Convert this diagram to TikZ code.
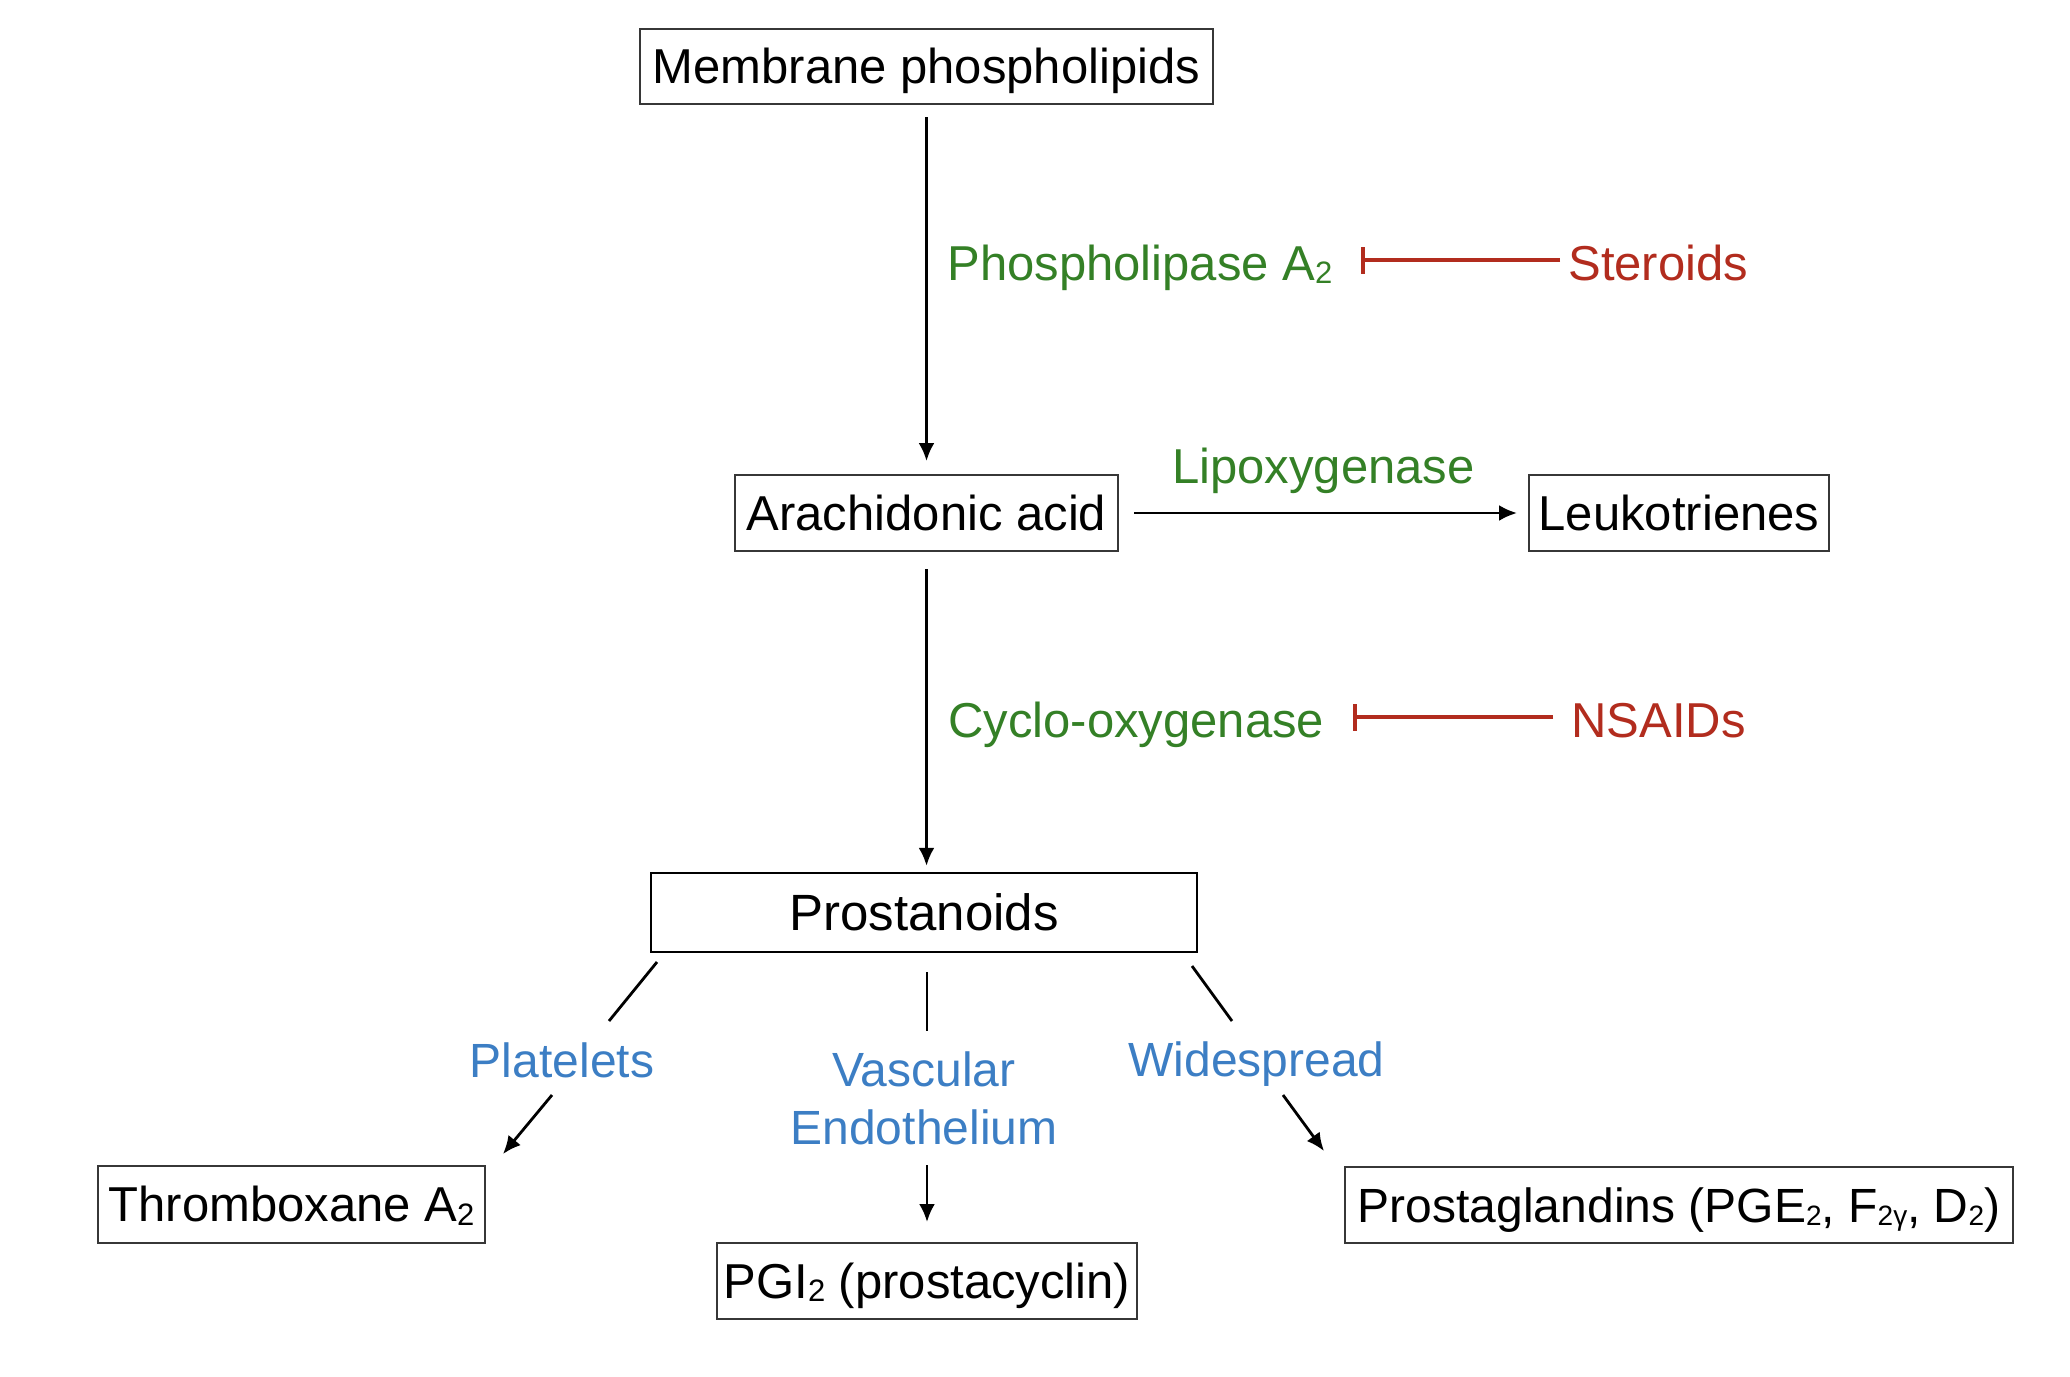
\documentclass[tikz,border=0pt]{standalone}
\usepackage{fontspec}
\setmainfont{Liberation Sans}
\usetikzlibrary{arrows.meta}
\definecolor{tgreen}{RGB}{52,128,38}
\definecolor{tred}{RGB}{178,44,30}
\definecolor{tblue}{RGB}{60,126,196}
\definecolor{boxline}{RGB}{55,55,55}
\newcommand\subtxt[1]{\raisebox{-1.8pt}{\fontsize{15.5pt}{15.5pt}\selectfont #1}}
\newcommand\subsm[1]{\raisebox{-1.8pt}{\fontsize{14pt}{14pt}\selectfont #1}}
\tikzset{
  boxnode/.style={draw=boxline, line width=1pt, inner sep=0pt, text height=17.35pt, text depth=0pt,
    font=\fontsize{24.5pt}{29pt}\selectfont},
  lbl/.style={inner sep=0pt, text height=20pt, text depth=0pt, font=\fontsize{24.5pt}{29pt}\selectfont},
  bluelbl/.style={inner sep=0pt, text=tblue, font=\fontsize{24pt}{29pt}\selectfont, align=center},
  arr/.style={line width=1.4pt, -{Latex[length=9pt,width=8pt]}},
  ln/.style={line width=1.4pt},
  inh/.style={draw=tred, line width=2.2pt, -{Bar[width=13.5pt]}},
}
\begin{document}
\begin{tikzpicture}[x=0.5pt,y=-0.5pt]
\useasboundingbox[fill=white] (0,0) rectangle (2070,1376);
% boxes
\node[boxnode, minimum width=286.5pt, minimum height=37.5pt] (mem) at (926.5,66.5) {Membrane phospholipids};
\node[boxnode, minimum width=191.5pt, minimum height=38pt] (ara) at (926.5,513) {Arachidonic acid};
\node[boxnode, minimum width=150pt, minimum height=38pt] (leuk) at (1679,513) {Leukotrienes};
\node[boxnode, draw=black, line width=1.2pt, minimum width=273pt, minimum height=39.5pt, text height=18pt,
  font=\fontsize{25.5pt}{29pt}\selectfont] (prost) at (924,912.5) {Prostanoids};
\node[boxnode, minimum width=193.5pt, minimum height=38.5pt] (thromb) at (291.5,1204.5) {Thromboxane A\subtxt{2}};
\node[boxnode, minimum width=210pt, minimum height=38pt] (pgi) at (927,1281) {PGI\subtxt{2} (prostacyclin)};
\node[boxnode, minimum width=334pt, minimum height=38pt, font=\fontsize{24pt}{29pt}\selectfont] (pgs) at (1679,1205) {Prostaglandins (PGE\subsm{2}, F\subsm{2γ}, D\subsm{2})};
% labels
\node[lbl, text=tgreen, anchor=base west] (pla) at (947,280) {Phospholipase A\subtxt{2}};
\node[lbl, text=tred, anchor=base west] (ster) at (1568,280) {Steroids};
\node[lbl, text=tgreen, anchor=base] (lipo) at (1323.5,483) {Lipoxygenase};
\node[lbl, text=tgreen, anchor=base west] (cox) at (948,737) {Cyclo-oxygenase};
\node[lbl, text=tred, anchor=base west] (nsaid) at (1571,737) {NSAIDs};
\node[bluelbl, anchor=base] (plat) at (562,1077) {Platelets};
\node[bluelbl] (vasc) at (924,1098.5) {Vascular\\Endothelium};
\node[bluelbl, anchor=base] (wide) at (1256.5,1076) {Widespread};
% main connectors
\draw[arr, shorten <=6pt, shorten >=6.5pt] (mem.south) -- (ara.north);
\draw[arr, shorten <=7.5pt, shorten >=5.5pt] (ara.east) -- (leuk.west);
\draw[arr, shorten <=8.5pt, shorten >=3pt] (ara.south) -- (ara.south |- prost.north);
\draw[inh, shorten <=4pt, shorten >=14pt] (ster.west) -- (pla.east |- ster.west);
\draw[inh, shorten <=9pt, shorten >=14pt] (nsaid.west) -- (cox.east |- nsaid.west);
% branch coordinates
\coordinate (c1s) at (657,962);  \coordinate (c1e) at (609,1021);
\coordinate (a1s) at (552,1095); \coordinate (a1e) at (503,1154);
\coordinate (c2s) at (927,972);  \coordinate (c2e) at (927,1031);
\coordinate (a2s) at (927,1165); \coordinate (a2e) at (927,1222);
\coordinate (c3s) at (1192,966); \coordinate (c3e) at (1232,1021);
\coordinate (a3s) at (1283,1095); \coordinate (a3e) at (1324,1151);
\draw[ln] (c1s) -- (c1e);
\draw[arr] (a1s) -- (a1e);
\draw[ln] (c2s) -- (c2e);
\draw[arr] (a2s) -- (a2e);
\draw[ln] (c3s) -- (c3e);
\draw[arr] (a3s) -- (a3e);
\end{tikzpicture}
\end{document}
